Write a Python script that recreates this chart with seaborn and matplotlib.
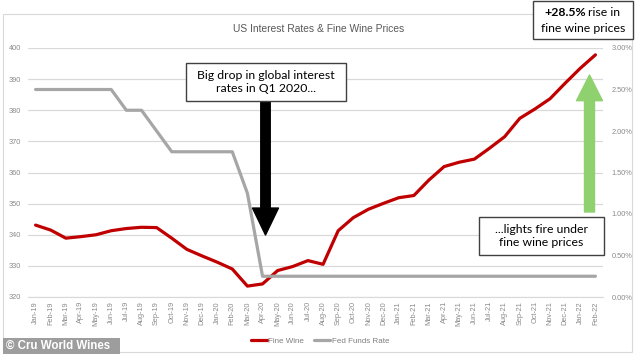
import numpy as np
import pandas as pd
import matplotlib
matplotlib.use('Agg')
import matplotlib.pyplot as plt
import matplotlib.patches as mpatches
import seaborn as sns

# month labels Jan-19 .. Feb-22
months = [d.strftime('%b-%y') for d in pd.date_range('2019-01-01', '2022-02-01', freq='MS')]

wine = [343.1, 341.5, 338.9, 339.4, 340.0, 341.3, 342.0, 342.4, 342.3, 338.9, 335.3, 333.2,
        331.2, 329.0, 323.5, 324.2, 328.5, 329.8, 331.7, 330.5, 341.3, 345.5, 348.2, 350.1,
        351.9, 352.6, 357.6, 361.9, 363.3, 364.3, 367.8, 371.5, 377.4, 380.4, 383.7, 388.7,
        393.5, 397.8]

fed_rate = [2.50, 2.50, 2.50, 2.50, 2.50, 2.50, 2.25, 2.25, 2.00, 1.75, 1.75, 1.75,
            1.75, 1.75, 1.25, 0.25, 0.25, 0.25, 0.25, 0.25, 0.25, 0.25, 0.25, 0.25,
            0.25, 0.25, 0.25, 0.25, 0.25, 0.25, 0.25, 0.25, 0.25, 0.25, 0.25, 0.25,
            0.25, 0.25]

left_ticks = [320, 330, 340, 350, 360, 370, 380, 390, 400]
right_ticks = [0.0, 0.5, 1.0, 1.5, 2.0, 2.5, 3.0]

W, H = 636, 354

sns.set_style('white')
plt.rcParams['font.family'] = ['Lato', 'DejaVu Sans']
narrow = ['Liberation Sans Narrow', 'Liberation Sans', 'DejaVu Sans']


def fx(x):
    return x / W


def fy(y):
    return 1 - y / H


fig = plt.figure(figsize=(W / 100, H / 100), dpi=100)
ax = fig.add_axes([fx(28), fy(297), (603 - 28) / W, (297 - 48) / H])
ax2 = ax.twinx()

idx = np.arange(len(months))
sns.lineplot(x=idx, y=wine, ax=ax, color='#c00000', lw=2.3, label='Fine Wine', legend=False)
sns.lineplot(x=idx, y=fed_rate, ax=ax2, color='#a6a6a6', lw=2.3, label='Fed Funds Rate', legend=False)

ax.set_xlim(-0.5, len(months) - 0.5)
ax.set_ylim(320, 400)
ax2.set_ylim(0, 3)
ax.set_yticks(left_ticks)
ax.set_yticklabels([str(t) for t in left_ticks], family=narrow, fontsize=5.3, color='#8a8a8a')
ax2.set_yticks(right_ticks)
ax2.set_yticklabels(['%.2f%%' % t for t in right_ticks], family=narrow, fontsize=5.3, color='#8a8a8a')
ax.set_xticks(idx)
ax.set_xticklabels(months, rotation=90, family=narrow, fontsize=5.3, color='#8a8a8a')
ax.tick_params(axis='y', length=0, pad=5)
ax.tick_params(axis='x', length=0, pad=3)
ax2.tick_params(axis='y', length=0, pad=6)
ax.set_xlabel('')
ax.set_ylabel('')
ax2.set_ylabel('')

ax.yaxis.grid(True, color='#d9d9d9', lw=0.9)
for a in (ax, ax2):
    for s in ('left', 'right', 'top', 'bottom'):
        a.spines[s].set_visible(False)
ax.spines['bottom'].set_visible(True)
ax.spines['bottom'].set_color('#d9d9d9')

fig.text(fx(319), fy(29), 'US Interest Rates & Fine Wine Prices', ha='center', va='center',
         family=narrow, fontsize=7.4, color='#595959')

# legend
h1, l1 = ax.get_legend_handles_labels()
h2, l2 = ax2.get_legend_handles_labels()
fig.legend(h1 + h2, l1 + l2, loc='center', bbox_to_anchor=(fx(320), fy(341)), ncol=2,
           frameon=False, prop={'family': narrow, 'size': 5.8}, labelcolor='#7f7f7f',
           handlelength=2.0, handletextpad=0.2, columnspacing=1.2)

# chart border
fig.add_artist(mpatches.Rectangle((fx(3), fy(352)), (632 - 3) / W, (352 - 14) / H,
                                  transform=fig.transFigure, fill=False, ec='#d9d9d9', lw=0.8, zorder=0.5))

# arrows
def block_arrow(x, y0, y1, color, tail, hw, hl):
    style = mpatches.ArrowStyle.Simple(head_length=hl, head_width=hw, tail_width=tail)
    arr = mpatches.FancyArrowPatch((fx(x), fy(y0)), (fx(x), fy(y1)), transform=fig.transFigure,
                                   arrowstyle=style, mutation_scale=10, shrinkA=0, shrinkB=0,
                                   color=color, zorder=4)
    fig.add_artist(arr)


block_arrow(265.5, 101, 235, 'black', 0.68, 1.87, 1.94)
block_arrow(589.5, 212, 75, '#8fd16e', 0.72, 1.87, 1.85)

# annotation boxes
def text_box(x0, y0, x1, y1):
    fig.add_artist(mpatches.Rectangle((fx(x0), fy(y1)), (x1 - x0) / W, (y1 - y0) / H,
                                      transform=fig.transFigure, fc='white', ec='#404040',
                                      lw=1.0, zorder=5))


fs = 8.8
text_box(185.7, 63.3, 345.7, 101)
fig.text(fx(265.7), fy(82), 'Big drop in global interest\nrates in Q1 2020...', ha='center', va='center',
         fontsize=fs, color='black', linespacing=1.3, zorder=6)

text_box(532.7, 1, 632.7, 39)
fig.text(fx(586), fy(12.5), '+28.5%', ha='right', va='center', fontsize=fs, fontweight='bold',
         color='black', zorder=6)
fig.text(fx(588.5), fy(12.5), 'rise in', ha='left', va='center', fontsize=fs, color='black', zorder=6)
fig.text(fx(582.7), fy(28), 'fine wine prices', ha='center', va='center', fontsize=fs,
         color='black', zorder=6)

text_box(479, 216.7, 604, 255)
fig.text(fx(541.5), fy(236), '...lights fire under\nfine wine prices', ha='center', va='center',
         fontsize=fs, color='black', linespacing=1.3, zorder=6)

# watermark
fig.add_artist(mpatches.Rectangle((fx(3), fy(354)), (120 - 3) / W, (354 - 338) / H,
                                  transform=fig.transFigure, fc='#9d9d9d', ec='none', zorder=5))
fig.text(fx(6), fy(346), '\u00a9 Cru World Wines', ha='left', va='center', fontsize=8.3,
         fontweight='bold', color='white', family=['Liberation Sans', 'DejaVu Sans'], zorder=6)

fig.savefig('out.png', dpi=100)
